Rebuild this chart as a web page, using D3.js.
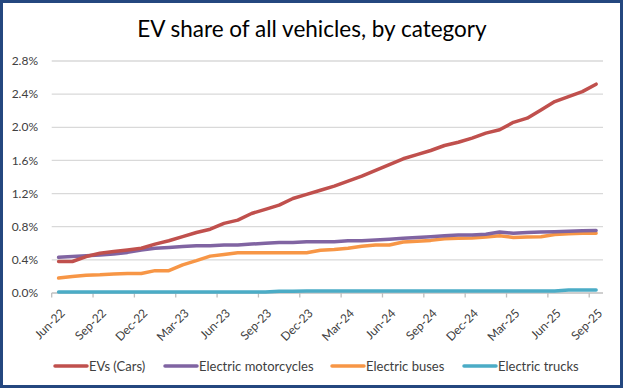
<!DOCTYPE html>
<html>
<head>
<meta charset="utf-8">
<script src="https://cdn.jsdelivr.net/npm/d3@7"></script>
<style>
  body { margin: 0; background: #fff; }
  svg { display: block; font-family: Lato, "Open Sans", sans-serif; }
</style>
</head>
<body>
<div id="chart"></div>
<script>
var months = ["Jun-22","Jul-22","Aug-22","Sep-22","Oct-22","Nov-22","Dec-22","Jan-23","Feb-23","Mar-23",
  "Apr-23","May-23","Jun-23","Jul-23","Aug-23","Sep-23","Oct-23","Nov-23","Dec-23","Jan-24",
  "Feb-24","Mar-24","Apr-24","May-24","Jun-24","Jul-24","Aug-24","Sep-24","Oct-24","Nov-24",
  "Dec-24","Jan-25","Feb-25","Mar-25","Apr-25","May-25","Jun-25","Jul-25","Aug-25","Sep-25"];

var cars = [0.38,0.38,0.44,0.48,0.50,0.52,0.54,0.59,0.63,0.68,
  0.73,0.77,0.84,0.88,0.96,1.01,1.06,1.14,1.19,1.24,
  1.29,1.35,1.41,1.48,1.55,1.62,1.67,1.72,1.78,1.82,
  1.87,1.93,1.97,2.06,2.11,2.21,2.31,2.37,2.43,2.52];

var motorcycles = [0.43,0.44,0.45,0.46,0.47,0.49,0.52,0.54,0.55,0.56,
  0.57,0.57,0.58,0.58,0.59,0.60,0.61,0.61,0.62,0.62,
  0.62,0.63,0.63,0.64,0.65,0.66,0.67,0.68,0.69,0.70,
  0.70,0.71,0.735,0.72,0.73,0.735,0.74,0.745,0.75,0.755];

var buses = [0.18,0.20,0.215,0.22,0.23,0.235,0.235,0.27,0.27,0.34,
  0.39,0.445,0.465,0.485,0.485,0.485,0.485,0.485,0.485,0.515,
  0.525,0.54,0.565,0.58,0.58,0.615,0.625,0.635,0.655,0.66,
  0.665,0.675,0.69,0.67,0.675,0.68,0.705,0.715,0.72,0.72];

var trucks = [0.012,0.012,0.012,0.012,0.012,0.012,0.012,0.012,0.012,0.012,
  0.012,0.012,0.012,0.012,0.012,0.012,0.02,0.02,0.025,0.025,
  0.025,0.025,0.025,0.025,0.025,0.025,0.025,0.025,0.025,0.025,
  0.025,0.025,0.025,0.025,0.025,0.025,0.025,0.035,0.035,0.035];

var seriesNames = ["EVs (Cars)", "Electric motorcycles", "Electric buses", "Electric trucks"];
var seriesColors = ["#C0504D", "#8064A2", "#F79646", "#4BACC6"];
var yTicks = [0, 0.4, 0.8, 1.2, 1.6, 2.0, 2.4, 2.8];

var W = 625, H = 389;
var svg = d3.select("#chart").append("svg")
    .attr("width", W)
    .attr("height", H);

svg.append("rect")
    .attr("x", 1.5).attr("y", 1.5)
    .attr("width", 620).attr("height", 385)
    .attr("fill", "#fff")
    .attr("stroke", "#24477F")
    .attr("stroke-width", 3);

svg.append("text")
    .attr("x", 312)
    .attr("y", 37)
    .attr("text-anchor", "middle")
    .style("font-size", "22.5px")
    .style("fill", "#000")
    .text("EV share of all vehicles, by category");

var x = d3.scaleBand()
    .domain(months)
    .range([51.7, 603])
    .padding(0);

var y = d3.scaleLinear()
    .domain([0, 2.8])
    .range([293, 61]);

// grid
svg.append("g")
  .selectAll("line")
  .data(yTicks.slice(1))
  .enter()
  .append("line")
    .attr("x1", 51.7).attr("x2", 603)
    .attr("y1", function(d) { return y(d); })
    .attr("y2", function(d) { return y(d); })
    .attr("stroke", "#D9D9D9")
    .attr("stroke-width", 1.3);

// y labels
svg.append("g")
  .selectAll("text")
  .data(yTicks)
  .enter()
  .append("text")
    .attr("x", 38)
    .attr("y", function(d) { return y(d); })
    .attr("dy", "0.35em")
    .attr("text-anchor", "end")
    .style("font-size", "12px")
    .style("fill", "#404040")
    .text(function(d) { return d.toFixed(1) + "%"; });

// x axis line + ticks
var labelled = months.filter(function(d, i) { return i % 3 === 0; });
svg.append("line")
    .attr("x1", 51.7).attr("x2", 603)
    .attr("y1", 293).attr("y2", 293)
    .attr("stroke", "#BFBFBF")
    .attr("stroke-width", 1.3);
svg.append("g")
  .selectAll("line")
  .data(labelled)
  .enter()
  .append("line")
    .attr("x1", function(d) { return x(d); })
    .attr("x2", function(d) { return x(d); })
    .attr("y1", 293).attr("y2", 297.5)
    .attr("stroke", "#BFBFBF")
    .attr("stroke-width", 1.3);

svg.append("g")
  .selectAll("text")
  .data(labelled)
  .enter()
  .append("text")
    .attr("transform", function(d) {
      return "translate(" + (x(d) + x.bandwidth() / 2 + 4) + ",311) rotate(-45)";
    })
    .attr("text-anchor", "end")
    .attr("dy", "0.35em")
    .style("font-size", "12px")
    .style("fill", "#404040")
    .text(function(d) { return d; });

// lines
var allSeries = [cars, motorcycles, buses, trucks];
var line = d3.line()
    .x(function(d, i) { return x(months[i]) + x.bandwidth() / 2; })
    .y(function(d) { return y(d); });

[3, 2, 1, 0].forEach(function(k) {
  svg.append("path")
      .datum(allSeries[k])
      .attr("d", line)
      .attr("fill", "none")
      .attr("stroke", seriesColors[k])
      .attr("stroke-width", 3.5)
      .attr("stroke-linejoin", "round")
      .attr("stroke-linecap", "round");
});

// legend
var legendX = [55, 165, 332, 464];
var leg = svg.append("g");
seriesNames.forEach(function(name, k) {
  leg.append("line")
      .attr("x1", legendX[k]).attr("x2", legendX[k] + 32)
      .attr("y1", 366).attr("y2", 366)
      .attr("stroke", seriesColors[k])
      .attr("stroke-width", 3.5)
      .attr("stroke-linecap", "round");
  leg.append("text")
      .attr("x", legendX[k] + 34)
      .attr("y", 366)
      .attr("dy", "0.35em")
      .style("font-size", "13px")
      .style("fill", "#404040")
      .text(name);
});
</script>
</body>
</html>
